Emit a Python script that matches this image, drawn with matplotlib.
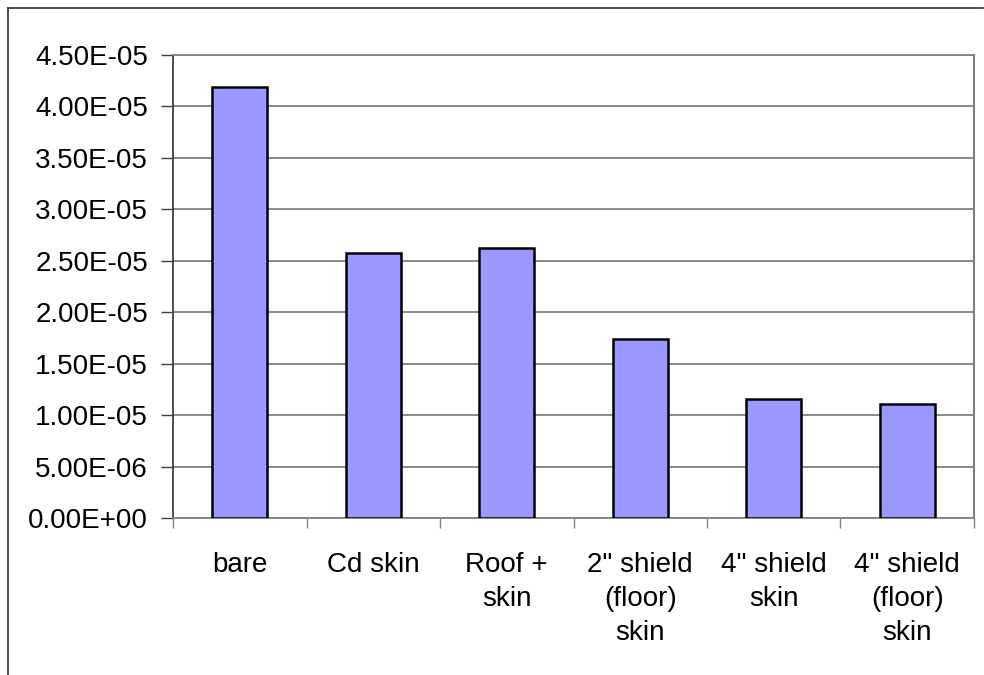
import matplotlib
matplotlib.use("Agg")
import matplotlib.pyplot as plt
from matplotlib.lines import Line2D
import numpy as np

categories = ["bare", "Cd skin", "Roof +\nskin", "2\" shield\n(floor)\nskin",
              "4\" shield\nskin", "4\" shield\n(floor)\nskin"]
values = [4.19e-5, 2.575e-5, 2.62e-5, 1.74e-5, 1.155e-5, 1.105e-5]
yticks = [i * 5e-6 for i in range(10)]
ytick_labels = ["0.00E+00", "5.00E-06", "1.00E-05", "1.50E-05", "2.00E-05",
                "2.50E-05", "3.00E-05", "3.50E-05", "4.00E-05", "4.50E-05"]

plt.rcParams['font.family'] = ['Liberation Sans', 'DejaVu Sans']

W, H = 984, 675
fig = plt.figure(figsize=(W / 100, H / 100), dpi=100)
ax = fig.add_axes([173 / W, 1 - 518 / H, (974 - 173) / W, (518 - 55) / H])

x = np.arange(len(categories))
ax.bar(x, values, width=0.41, color="#9999ff", edgecolor="black", linewidth=1.8, zorder=3)

ax.set_xlim(-0.5, len(categories) - 0.5)
ax.set_ylim(0, 4.5e-5)
ax.set_yticks(yticks)
ax.set_yticklabels(ytick_labels, fontsize=20)
ax.yaxis.grid(True, color="#808080", linewidth=1.3, zorder=0)
ax.set_axisbelow(True)

ax.set_xticks(np.arange(len(categories) + 1) - 0.5)
ax.set_xticklabels([])
ax.tick_params(axis='x', length=7, width=1, color="#808080", direction='out')
ax.tick_params(axis='y', length=9, width=1, color="#404040", direction='out', pad=9)
for i, c in enumerate(categories):
    ax.text(i, -0.074, c, transform=ax.get_xaxis_transform(), ha='center', va='top',
            fontsize=20, linespacing=1.4)

ax.spines['left'].set_color("#404040")
ax.spines['left'].set_linewidth(1.3)
ax.spines['bottom'].set_color("#808080")
ax.spines['bottom'].set_linewidth(1.3)
ax.spines['right'].set_color("#808080")
ax.spines['right'].set_linewidth(1.5)
ax.spines['top'].set_color("#808080")
ax.spines['top'].set_linewidth(1.3)

# outer chart border (left and top visible)
fig.add_artist(Line2D([8 / W, 8 / W], [0, 1 - 8 / H], transform=fig.transFigure,
                      color="#303030", linewidth=1.2))
fig.add_artist(Line2D([8 / W, 983 / W], [1 - 8 / H, 1 - 8 / H], transform=fig.transFigure,
                      color="#303030", linewidth=1.2))

fig.savefig("out.png", dpi=100)
